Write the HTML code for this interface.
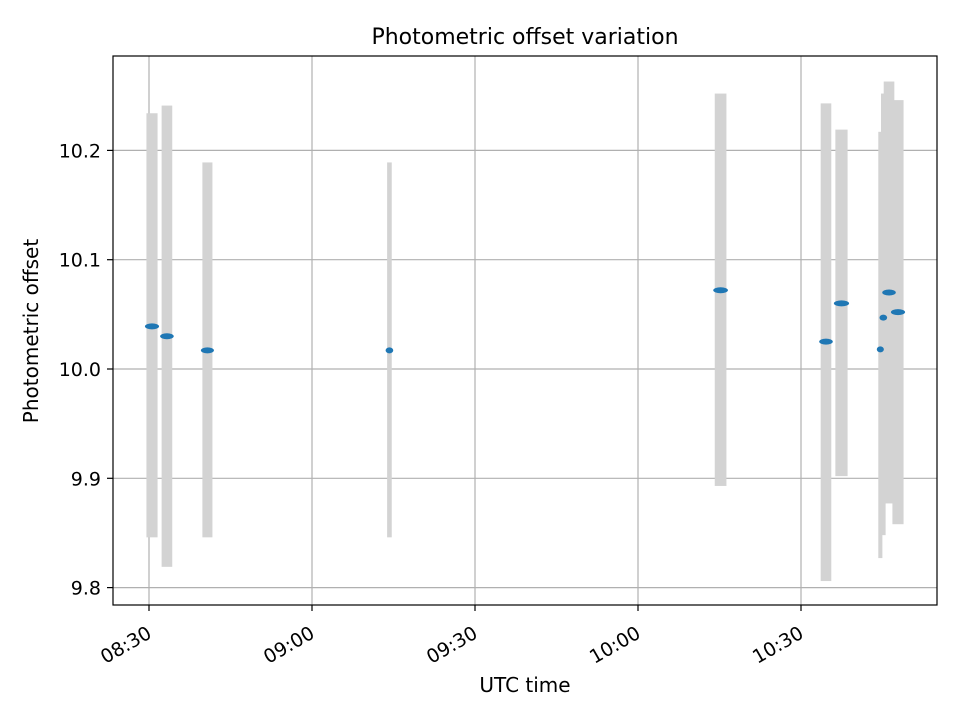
<!DOCTYPE html>
<html><head><meta charset="utf-8"><style>
body{margin:0;background:#fff;font-family:"DejaVu Sans","Liberation Sans",sans-serif}
</style></head><body>
<svg width="960" height="720" viewBox="0 0 960 720" font-family="DejaVu Sans, Liberation Sans, sans-serif">
<rect width="960" height="720" fill="#fff"/>
<g id="grid"></g>
<g id="bars"></g>
<g id="dots"></g>
<rect x="113" y="56" width="824" height="549" fill="none" stroke="#000" stroke-width="1.2"/>
<g id="ticks"></g>
<text x="525" y="44" font-size="22px" text-anchor="middle">Photometric offset variation</text>
<text x="525" y="692" font-size="20px" text-anchor="middle">UTC time</text>
<text transform="translate(38,331) rotate(-90)" font-size="20px" text-anchor="middle">Photometric offset</text>
</svg>
<script>
// minutes after 08:30
const tStart=[-0.2,2.6,10.1,44.1,104.4,123.9,126.6,134.5,135.0,135.5,137.1];
const tEnd=[1.3,4.0,11.4,44.4,106.0,125.3,128.3,134.7,135.3,136.9,138.6];
const values=[10.039,10.030,10.017,10.017,10.072,10.025,10.060,10.018,10.047,10.070,10.052];
const errTop=[10.234,10.241,10.189,10.189,10.252,10.243,10.219,10.217,10.252,10.263,10.246];
const errBottom=[9.846,9.819,9.846,9.846,9.893,9.806,9.902,9.827,9.848,9.877,9.858];
const yTicks=[9.8,9.9,10.0,10.1,10.2];
const yTickLabels=["9.8","9.9","10.0","10.1","10.2"];
const xTicks=[0,30,60,90,120];
const xTickLabels=["08:30","09:00","09:30","10:00","10:30"];
const NS="http://www.w3.org/2000/svg";
const x=t=>149+t*163/30;
const y=v=>369-(v-10)*1093;
function mk(tag,attrs,parent){const e=document.createElementNS(NS,tag);for(const k in attrs)e.setAttribute(k,attrs[k]);document.getElementById(parent).appendChild(e);return e;}
xTicks.forEach((t,i)=>{
  const g=mk('line',{x1:x(t),x2:x(t),y1:56,y2:605,stroke:'#b0b0b0','stroke-width':1.2},'grid');
  
  
  const tk=mk('line',{x1:x(t),x2:x(t),y1:605,y2:611,stroke:'#000','stroke-width':1.2},'ticks');
  
  
  const lb=mk('text',{transform:`translate(${x(t)-3},625) rotate(-30)`,'font-size':'19px','text-anchor':'end','dominant-baseline':'hanging'},'ticks');
  lb.textContent=xTickLabels[i];
  
  
});
yTicks.forEach((v,i)=>{
  const g=mk('line',{x1:113,x2:937,y1:y(v),y2:y(v),stroke:'#b0b0b0','stroke-width':1.2},'grid');
  
  
  const tk=mk('line',{x1:107,x2:113,y1:y(v),y2:y(v),stroke:'#000','stroke-width':1.2},'ticks');
  
  
  const lb=mk('text',{x:101,y:y(v)+7,'font-size':'19px','text-anchor':'end'},'ticks');
  lb.textContent=yTickLabels[i];
  
  
});
values.forEach((v,i)=>{
  const x0=x(tStart[i])-1.5,x1=x(tEnd[i])+1.5;
  const r=mk('rect',{x:x0,y:y(errTop[i]),width:x1-x0,height:y(errBottom[i])-y(errTop[i]),fill:'#d3d3d3'},'bars');
  
  
});
values.forEach((v,i)=>{
  const cx=(x(tStart[i])+x(tEnd[i]))/2,rx=(x(tEnd[i])-x(tStart[i]))/2+3;
  const e=mk('ellipse',{cx:cx,cy:y(v),rx:rx,ry:3,fill:'#1f77b4'},'dots');
  
  
});
</script>
</body></html>
